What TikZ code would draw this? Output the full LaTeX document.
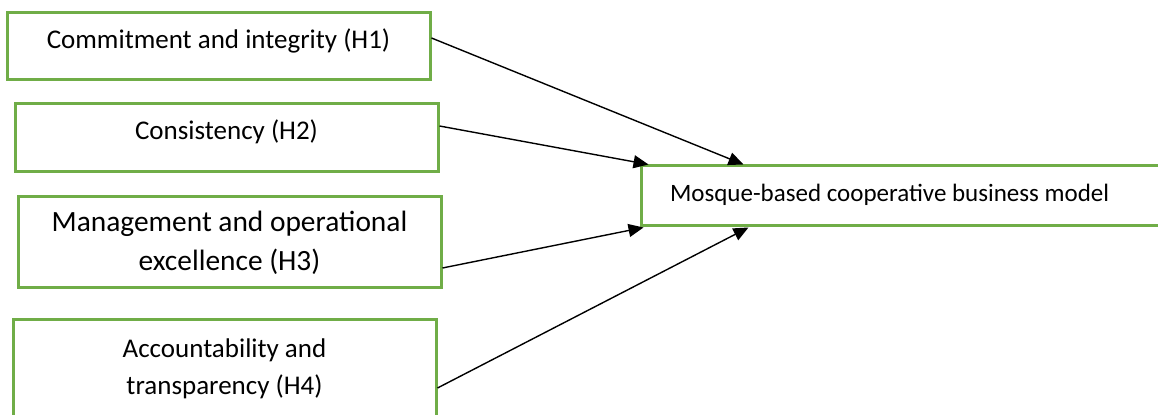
\documentclass[tikz,border=0pt]{standalone}
\usepackage{fontspec}
\setmainfont{Carlito}
\usepackage{xcolor}
\usetikzlibrary{arrows.meta,positioning,calc}

\definecolor{hypgreen}{RGB}{112,173,71}

\begin{document}
\begin{tikzpicture}[x=0.5pt,y=-0.5pt,
    hyp/.style={rectangle, draw=hypgreen, line width=1.5pt, minimum width=211.5pt, font=\fontsize{13.5}{18.5}\selectfont, align=center},
    conn/.style={-{Triangle[length=7.5pt,width=6.5pt]}, line width=0.7pt}]
    \clip (0,0) rectangle (1158,415);
    \node (h1) [hyp, inner ysep=0pt, text height=18pt, text depth=15.5pt] at (218.5,46.5) {Commitment and integrity (H1)};
    \node (h2) [hyp, inner ysep=0pt, text height=18pt, text depth=16pt] at (226.5,138) {Consistency (H2)};
    \node (h3) [hyp, minimum height=45.5pt, font=\fontsize{14.7}{19.5}\selectfont] at (229.5,242.5) {Management and operational\\excellence (H3)};
    \node (h4) [hyp, minimum height=49pt] at (224.5,369) {Accountability and\\transparency (H4)};
    \node (model) [hyp, font=\fontsize{12.5}{15}\selectfont, inner xsep=14.5pt, text width=250pt, align=flush left, inner ysep=0pt, text height=18pt, text depth=12pt] at (920,196) {Mosque-based cooperative business model};

    \draw [conn] ($(h1.east)+(0,-8.5)$) -- ($(model.north west)+(104,0)$);
    \draw [conn] ($(h2.east)+(0,-12)$) -- ($(model.north west)+(9,0)$);
    \draw [conn] ($(h3.east)+(0,25.5)$) -- ($(model.south west)+(4,0)$);
    \draw [conn] ($(h4.east)+(0,19)$) -- ($(model.south west)+(109,0)$);
\end{tikzpicture}
\end{document}
